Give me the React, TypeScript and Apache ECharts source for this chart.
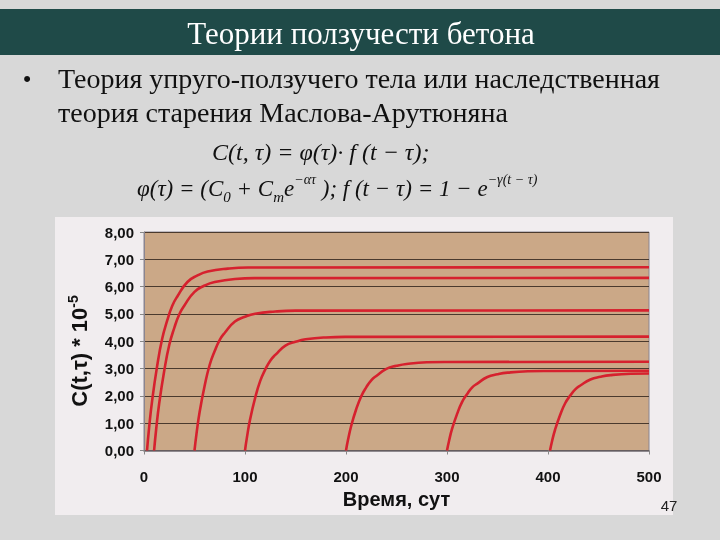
import React, { useEffect, useRef } from "react";
import * as echarts from "echarts";

// Creep curves C(t,τ): [time, value]
const curve1: [number, number][] = [[3,0],[5,0.81],[8,1.81],[13,3.09],[18,4.09],[23,4.76],[28,5.30],[33,5.64],[43,6.17],[53,6.41],[63,6.55],[83,6.66],[103,6.70],[500,6.71]];
const curve2: [number, number][] = [[10,0],[12,0.76],[15,1.71],[20,2.91],[25,3.86],[30,4.49],[35,4.99],[40,5.31],[50,5.81],[60,6.04],[70,6.17],[90,6.28],[110,6.31],[500,6.32]];
const curve3: [number, number][] = [[50,0],[52,0.62],[55,1.39],[60,2.36],[65,3.13],[70,3.64],[75,4.05],[80,4.31],[90,4.72],[100,4.90],[110,5.01],[130,5.09],[150,5.12],[500,5.13]];
const curve4: [number, number][] = [[100,0],[102,0.50],[105,1.13],[110,1.92],[115,2.54],[120,2.96],[125,3.29],[130,3.50],[140,3.84],[150,3.98],[160,4.07],[180,4.14],[200,4.16],[500,4.17]];
const curve5: [number, number][] = [[200,0],[202,0.39],[205,0.88],[210,1.50],[215,1.98],[220,2.31],[225,2.57],[230,2.73],[240,2.99],[250,3.10],[260,3.17],[280,3.23],[300,3.24],[500,3.25]];
const curve6: [number, number][] = [[300,0],[302,0.35],[305,0.79],[310,1.34],[315,1.78],[320,2.07],[325,2.31],[330,2.45],[340,2.69],[350,2.79],[360,2.85],[380,2.90],[400,2.91],[500,2.92]];
const curve7: [number, number][] = [[402,0],[404,0.34],[407,0.76],[412,1.30],[417,1.73],[422,2.01],[427,2.24],[432,2.38],[442,2.60],[452,2.70],[462,2.76],[482,2.81],[500,2.82]];
const curves = [curve1, curve2, curve3, curve4, curve5, curve6, curve7];

const xTicks = { min: 0, max: 500, interval: 100 };
const yTicks = { min: 0, max: 8, interval: 1 };

const title = "Теории ползучести бетона";
const bulletLine1 = "Теория упруго-ползучего тела или наследственная";
const bulletLine2 = "теория старения Маслова-Арутюняна";
const xName = "Время, сут";
const pageNo = "47";

const SERIF = "'Liberation Serif', 'DejaVu Serif', serif";
const SANS = "'Liberation Sans', Arial, sans-serif";

export default function App() {
  const ref = useRef<HTMLDivElement>(null);
  useEffect(() => {
    if (!ref.current) return;
    const chart = echarts.init(ref.current, null, { renderer: "svg" });
    const graphics: any[] = [
      { type: "rect", z: -20, silent: true, shape: { x: 0, y: 0, width: 720, height: 540 }, style: { fill: "#d8d8d8" } },
      { type: "rect", z: -19, silent: true, shape: { x: 0, y: 9, width: 720, height: 46 }, style: { fill: "#1f4a48" } },
      { type: "text", z: 5, x: 361, y: 33, style: { text: title, fill: "#ffffff", font: `31px ${SERIF}`, align: "center", verticalAlign: "middle" } },
      { type: "text", z: 5, x: 27, y: 78, style: { text: "•", fill: "#111", font: `22px ${SANS}`, align: "center", verticalAlign: "middle" } },
      { type: "text", z: 5, x: 58, y: 78, style: { text: bulletLine1, fill: "#111", font: `28px ${SERIF}`, align: "left", verticalAlign: "middle" } },
      { type: "text", z: 5, x: 58, y: 112, style: { text: bulletLine2, fill: "#111", font: `28px ${SERIF}`, align: "left", verticalAlign: "middle" } },
      { type: "text", z: 5, x: 212, y: 152, style: { text: "C(t, τ) = φ(τ)· f (t − τ);", fill: "#111", font: `italic 24px ${SERIF}`, align: "left", verticalAlign: "middle" } },
      {
        type: "text", z: 5, x: 137, y: 188,
        style: {
          text: "{a|φ(τ) = (C}{sub|0}{a| + C}{sub|m}{a|e}{sup|−ατ}{a| ); f (t − τ) = 1 − e}{sup|−γ(t − τ)}",
          fill: "#111", align: "left", verticalAlign: "middle",
          rich: {
            a: { font: `italic 23px ${SERIF}`, fill: "#111", lineHeight: 32 },
            sub: { font: `italic 15px ${SERIF}`, fill: "#111", lineHeight: 32, verticalAlign: "bottom", padding: [12, 0, 0, 0] },
            sup: { font: `italic 14px ${SERIF}`, fill: "#111", lineHeight: 32, verticalAlign: "top", padding: [0, 0, 14, 0] },
          },
        },
      },
      { type: "rect", z: -18, silent: true, shape: { x: 55, y: 217, width: 618, height: 298 }, style: { fill: "#f1edef" } },
      {
        type: "text", z: 5, x: 79, y: 351, rotation: Math.PI / 2,
        style: {
          text: "{a|C(t,τ) * 10}{s|-5}",
          align: "center", verticalAlign: "middle",
          rich: {
            a: { font: `bold 22px ${SANS}`, fill: "#111", lineHeight: 26 },
            s: { font: `bold 14px ${SANS}`, fill: "#111", lineHeight: 26, verticalAlign: "top", padding: [0, 0, 12, 0] },
          },
        },
      },
      { type: "text", z: 5, x: 669, y: 505, style: { text: pageNo, fill: "#222", font: `15px ${SANS}`, align: "center", verticalAlign: "middle" } },
    ];
    chart.setOption({
      animation: false,
      graphic: graphics,
      grid: { left: 144, right: 71, top: 232, bottom: 89.5, show: true, backgroundColor: "#cba887", borderColor: "#8a8590", borderWidth: 1 },
      xAxis: {
        type: "value", min: xTicks.min, max: xTicks.max, interval: xTicks.interval,
        name: xName, nameLocation: "middle", nameGap: 38,
        nameTextStyle: { color: "#111", fontWeight: "bold", fontSize: 20, fontFamily: SANS },
        axisLine: { show: true, lineStyle: { color: "#6f6a70", width: 1.5 } },
        axisTick: { show: true, length: 4, lineStyle: { color: "#888" } },
        axisLabel: { color: "#111", fontWeight: "bold", fontSize: 15, fontFamily: SANS, margin: 18 },
        splitLine: { show: false },
      },
      yAxis: {
        type: "value", min: yTicks.min, max: yTicks.max, interval: yTicks.interval,
        axisLine: { show: true, lineStyle: { color: "#8a8590", width: 1 } },
        axisTick: { show: true, length: 4, lineStyle: { color: "#888" } },
        axisLabel: { color: "#111", fontWeight: "bold", fontSize: 15, fontFamily: SANS, margin: 10, formatter: (v: number) => v.toFixed(2).replace(".", ",") },
        splitLine: { show: true, lineStyle: { color: "#4a3a2e", width: 1 } },
      },
      series: curves.map((c) => ({
        type: "line", data: c, showSymbol: false, smooth: 0.5,
        lineStyle: { color: "#d6212e", width: 2.6 }, silent: true,
      })),
    });
    return () => chart.dispose();
  }, []);
  return <div ref={ref} style={{ position: "fixed", left: 0, top: 0, width: 720, height: 540 }} />;
}
